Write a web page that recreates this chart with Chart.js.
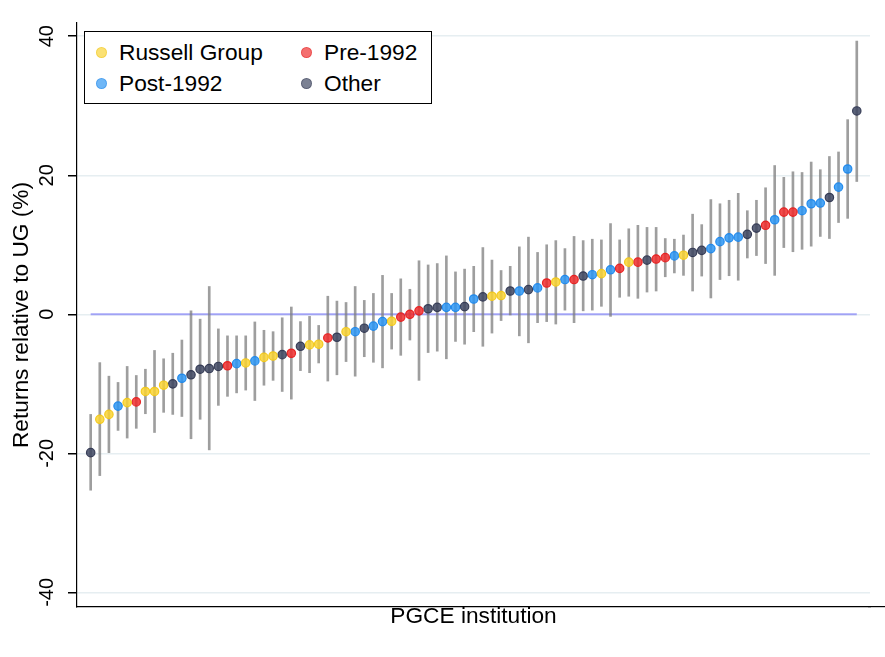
<!DOCTYPE html>
<html>
<head>
<meta charset="utf-8">
<script src="https://cdn.jsdelivr.net/npm/chart.js@4.4.1/dist/chart.umd.min.js"></script>
<style>
    body { margin: 0; background: #fff; }
    #wrap { position: relative; width: 885px; height: 657px; }
    .legend {
        position: absolute; left: 84px; top: 31px; width: 346px; height: 71px;
        border: 1px solid #000; background: #fff;
        font-family: "Liberation Sans", Arial, sans-serif; font-size: 22.7px; color: #000;
    }
    .item { position: absolute; height: 26px; line-height: 26px; white-space: nowrap; }
    .dot { position: absolute; top: 8px; width: 9px; height: 9px; border-radius: 50%; }
    .item span.txt { position: absolute; left: 23px; top: 0; }
</style>
</head>
<body>
<div id="wrap">
    <canvas id="chart" width="885" height="657"></canvas>
    <div class="legend" id="legend"></div>
</div>
<script>
// Schätzwerte je Institution (sortiert), mit Konfidenzintervall
const estimates = [
    -19.9, -15.1, -14.4, -13.2, -12.7, -12.6, -11.1, -11.1, -10.2, -10.0,
    -9.2, -8.7, -7.9, -7.8, -7.5, -7.4, -7.1, -7.0, -6.7, -6.2,
    -6.0, -5.8, -5.6, -4.6, -4.4, -4.3, -3.4, -3.3, -2.5, -2.5,
    -2.0, -1.7, -1.05, -1.0, -0.4, 0.0, 0.5, 0.8, 1.0, 1.0,
    1.0, 1.1, 2.2, 2.5, 2.6, 2.7, 3.35, 3.35, 3.55, 3.8,
    4.5, 4.65, 5.0, 5.0, 5.5, 5.7, 5.85, 6.4, 6.6, 7.5,
    7.5, 7.8, 7.95, 8.15, 8.4, 8.5, 8.9, 9.2, 9.45, 10.45,
    11.0, 11.1, 11.5, 12.4, 12.8, 13.6, 14.7, 14.7, 14.9, 15.9,
    16.0, 16.8, 18.3, 20.9, 29.25
];
const lower = [
    -25.3, -23.2, -19.9, -16.7, -17.8, -16.4, -14.3, -17.0, -14.1, -14.4,
    -14.7, -17.9, -15.1, -19.5, -13.1, -11.8, -11.3, -10.9, -12.4, -10.2,
    -9.5, -11.1, -12.2, -8.1, -8.4, -7.0, -9.6, -8.7, -6.8, -8.9,
    -6.1, -6.9, -7.7, -5.0, -5.9, -3.7, -9.5, -5.5, -5.3, -6.4,
    -3.9, -4.3, -2.5, -4.6, -2.7, -0.9, -0.1, -3.1, -4.1, -1.2,
    -1.05, -1.4, 0.6, -1.2, 0.5, 0.6, 1.15, -0.3, 2.45, 2.6,
    2.3, 3.2, 3.35, 5.4, 5.95, 5.6, 3.35, 5.5, 2.35, 5.0,
    5.55, 4.9, 8.1, 8.45, 7.3, 5.6, 9.6, 9.0, 9.35, 9.8,
    11.2, 10.9, 13.2, 13.8, 19.1
];
const upper = [
    -14.4, -6.95, -8.9, -9.8, -7.5, -8.8, -7.9, -5.2, -6.4, -5.6,
    -3.7, 0.5, -0.7, 4.0, -2.1, -3.1, -3.1, -3.1, -1.1, -2.3,
    -2.5, -0.5, 1.05, -1.05, -0.3, -1.6, 2.6, 1.9, 1.7, 4.0,
    2.0, 3.0, 5.6, 3.0, 5.1, 3.6, 7.7, 7.1, 7.3, 8.4,
    6.1, 6.5, 6.9, 9.6, 7.8, 6.3, 6.9, 9.7, 11.1, 8.9,
    10.0, 10.6, 9.45, 11.2, 10.6, 10.8, 10.7, 13.05, 10.7, 12.3,
    12.8, 12.5, 12.5, 10.9, 10.8, 11.4, 14.4, 12.9, 16.5, 15.9,
    16.4, 17.4, 14.9, 16.4, 18.2, 21.4, 19.7, 20.5, 20.4, 21.9,
    20.8, 22.7, 23.35, 28.0, 39.3
];
// R = Russell Group, P = Post-1992, E = Pre-1992, O = Other
const groups = [
    'O','R','R','P','R','E','R','R','R','O',
    'P','O','O','O','O','E','P','R','P','R',
    'R','O','E','O','R','R','E','O','R','P',
    'O','P','P','R','E','E','E','O','O','P',
    'P','O','P','O','R','R','O','P','O','P',
    'E','R','P','E','O','P','R','P','E','R',
    'E','O','E','E','P','R','O','O','P','P',
    'P','P','O','O','E','P','E','E','P','P',
    'P','O','P','P','O'
];

const groupCodes = ['R', 'E', 'P', 'O'];
const groupNames = ['Russell Group', 'Pre-1992', 'Post-1992', 'Other'];
const groupFill = ['rgba(250,212,50,0.85)', 'rgba(240,45,45,0.85)', 'rgba(45,150,245,0.85)', 'rgba(62,70,98,0.85)'];
const groupLine = ['rgba(242,200,25,0.95)', 'rgba(230,30,30,0.95)', 'rgba(30,135,235,0.95)', 'rgba(50,56,82,0.95)'];

const yTicks = [-40, -20, 0, 20, 40];
const fontFamily = '"Liberation Sans", Arial, sans-serif';

// Datensätze aufbauen
const xOf = i => i + 1;

const pointSets = groupCodes.map((code, g) => ({
    type: 'scatter',
    label: groupNames[g],
    data: estimates.map((v, i) => ({ x: xOf(i), y: v })).filter((_, i) => groups[i] === code),
    backgroundColor: groupFill[g],
    borderColor: groupLine[g],
    borderWidth: 1.2,
    pointRadius: 4.2,
    order: 1
}));

const ciSet = {
    type: 'bar',
    label: 'CI',
    data: estimates.map((_, i) => ({ x: xOf(i), y: [lower[i], upper[i]] })),
    backgroundColor: 'rgba(125,125,125,0.75)',
    borderWidth: 0,
    barThickness: 2,
    order: 2
};

const zeroLine = {
    type: 'line',
    label: 'zero',
    data: [{ x: xOf(0), y: 0 }, { x: xOf(estimates.length - 1), y: 0 }],
    borderColor: 'rgba(130,130,245,0.7)',
    borderWidth: 2,
    pointRadius: 0,
    order: 3
};

// x-Achsenlinie bis zum rechten Rand verlängern (gleiche Pixel-Ausrichtung wie Chart.js)
const axisExtend = {
    id: 'axisExtend',
    afterDraw(chart) {
        const { ctx, chartArea } = chart;
        const w = 1.2, half = w / 2;
        const y = Math.round(chart.scales.x.top - half) + half;
        ctx.save();
        ctx.strokeStyle = '#000';
        ctx.lineWidth = w;
        ctx.beginPath();
        ctx.moveTo(chartArea.right - 2, y);
        ctx.lineTo(chart.width, y);
        ctx.stroke();
        ctx.restore();
    }
};

new Chart(document.getElementById('chart'), {
    type: 'scatter',
    data: { datasets: [...pointSets, ciSet, zeroLine] },
    plugins: [axisExtend],
    options: {
        responsive: false,
        animation: false,
        layout: { autoPadding: false, padding: { top: 23, right: 15, bottom: 0, left: 0 } },
        plugins: { legend: { display: false }, tooltip: { enabled: false } },
        scales: {
            x: {
                type: 'linear',
                min: -0.5,
                max: 86.45,
                offset: false,
                grid: { display: false },
                ticks: { display: false },
                border: { display: true, color: '#000', width: 1.2 },
                title: {
                    display: true,
                    text: 'PGCE institution',
                    color: '#000',
                    font: { family: fontFamily, size: 22.7, lineHeight: 1.2 },
                    padding: { top: 0, bottom: 27 }
                },
                afterFit: s => { s.height = 50; }
            },
            y: {
                type: 'linear',
                min: -42.1,
                max: 41.9,
                afterBuildTicks: s => { s.ticks = yTicks.map(v => ({ value: v })); },
                ticks: {
                    minRotation: 90,
                    maxRotation: 90,
                    crossAlign: 'center',
                    padding: 6,
                    color: '#000',
                    font: { family: fontFamily, size: 20 }
                },
                grid: { color: '#e6eef1', lineWidth: 1.5, tickColor: '#000', tickLength: 9 },
                border: { color: '#000', width: 1.2 },
                title: {
                    display: true,
                    text: 'Returns relative to UG (%)',
                    color: '#000',
                    font: { family: fontFamily, size: 22.7, lineHeight: 1.2 },
                    padding: { top: 8, bottom: 0 }
                },
                afterFit: s => { s.width = 77; }
            }
        }
    }
});

// Legende (2 Spalten, im Plotbereich)
const legendDiv = document.getElementById('legend');
const legendOrder = [0, 1, 2, 3];
legendOrder.forEach((g, k) => {
    const col = k % 2, row = Math.floor(k / 2);
    const item = document.createElement('div');
    item.className = 'item';
    item.style.left = (col === 0 ? 11 : 216) + 'px';
    item.style.top = (row === 0 ? 7 : 38) + 'px';
    item.innerHTML = `<span class="dot" style="background:${groupFill[g]};border:1px solid ${groupLine[g]};opacity:0.8"></span><span class="txt">${groupNames[g]}</span>`;
    legendDiv.appendChild(item);
});
</script>
</body>
</html>
